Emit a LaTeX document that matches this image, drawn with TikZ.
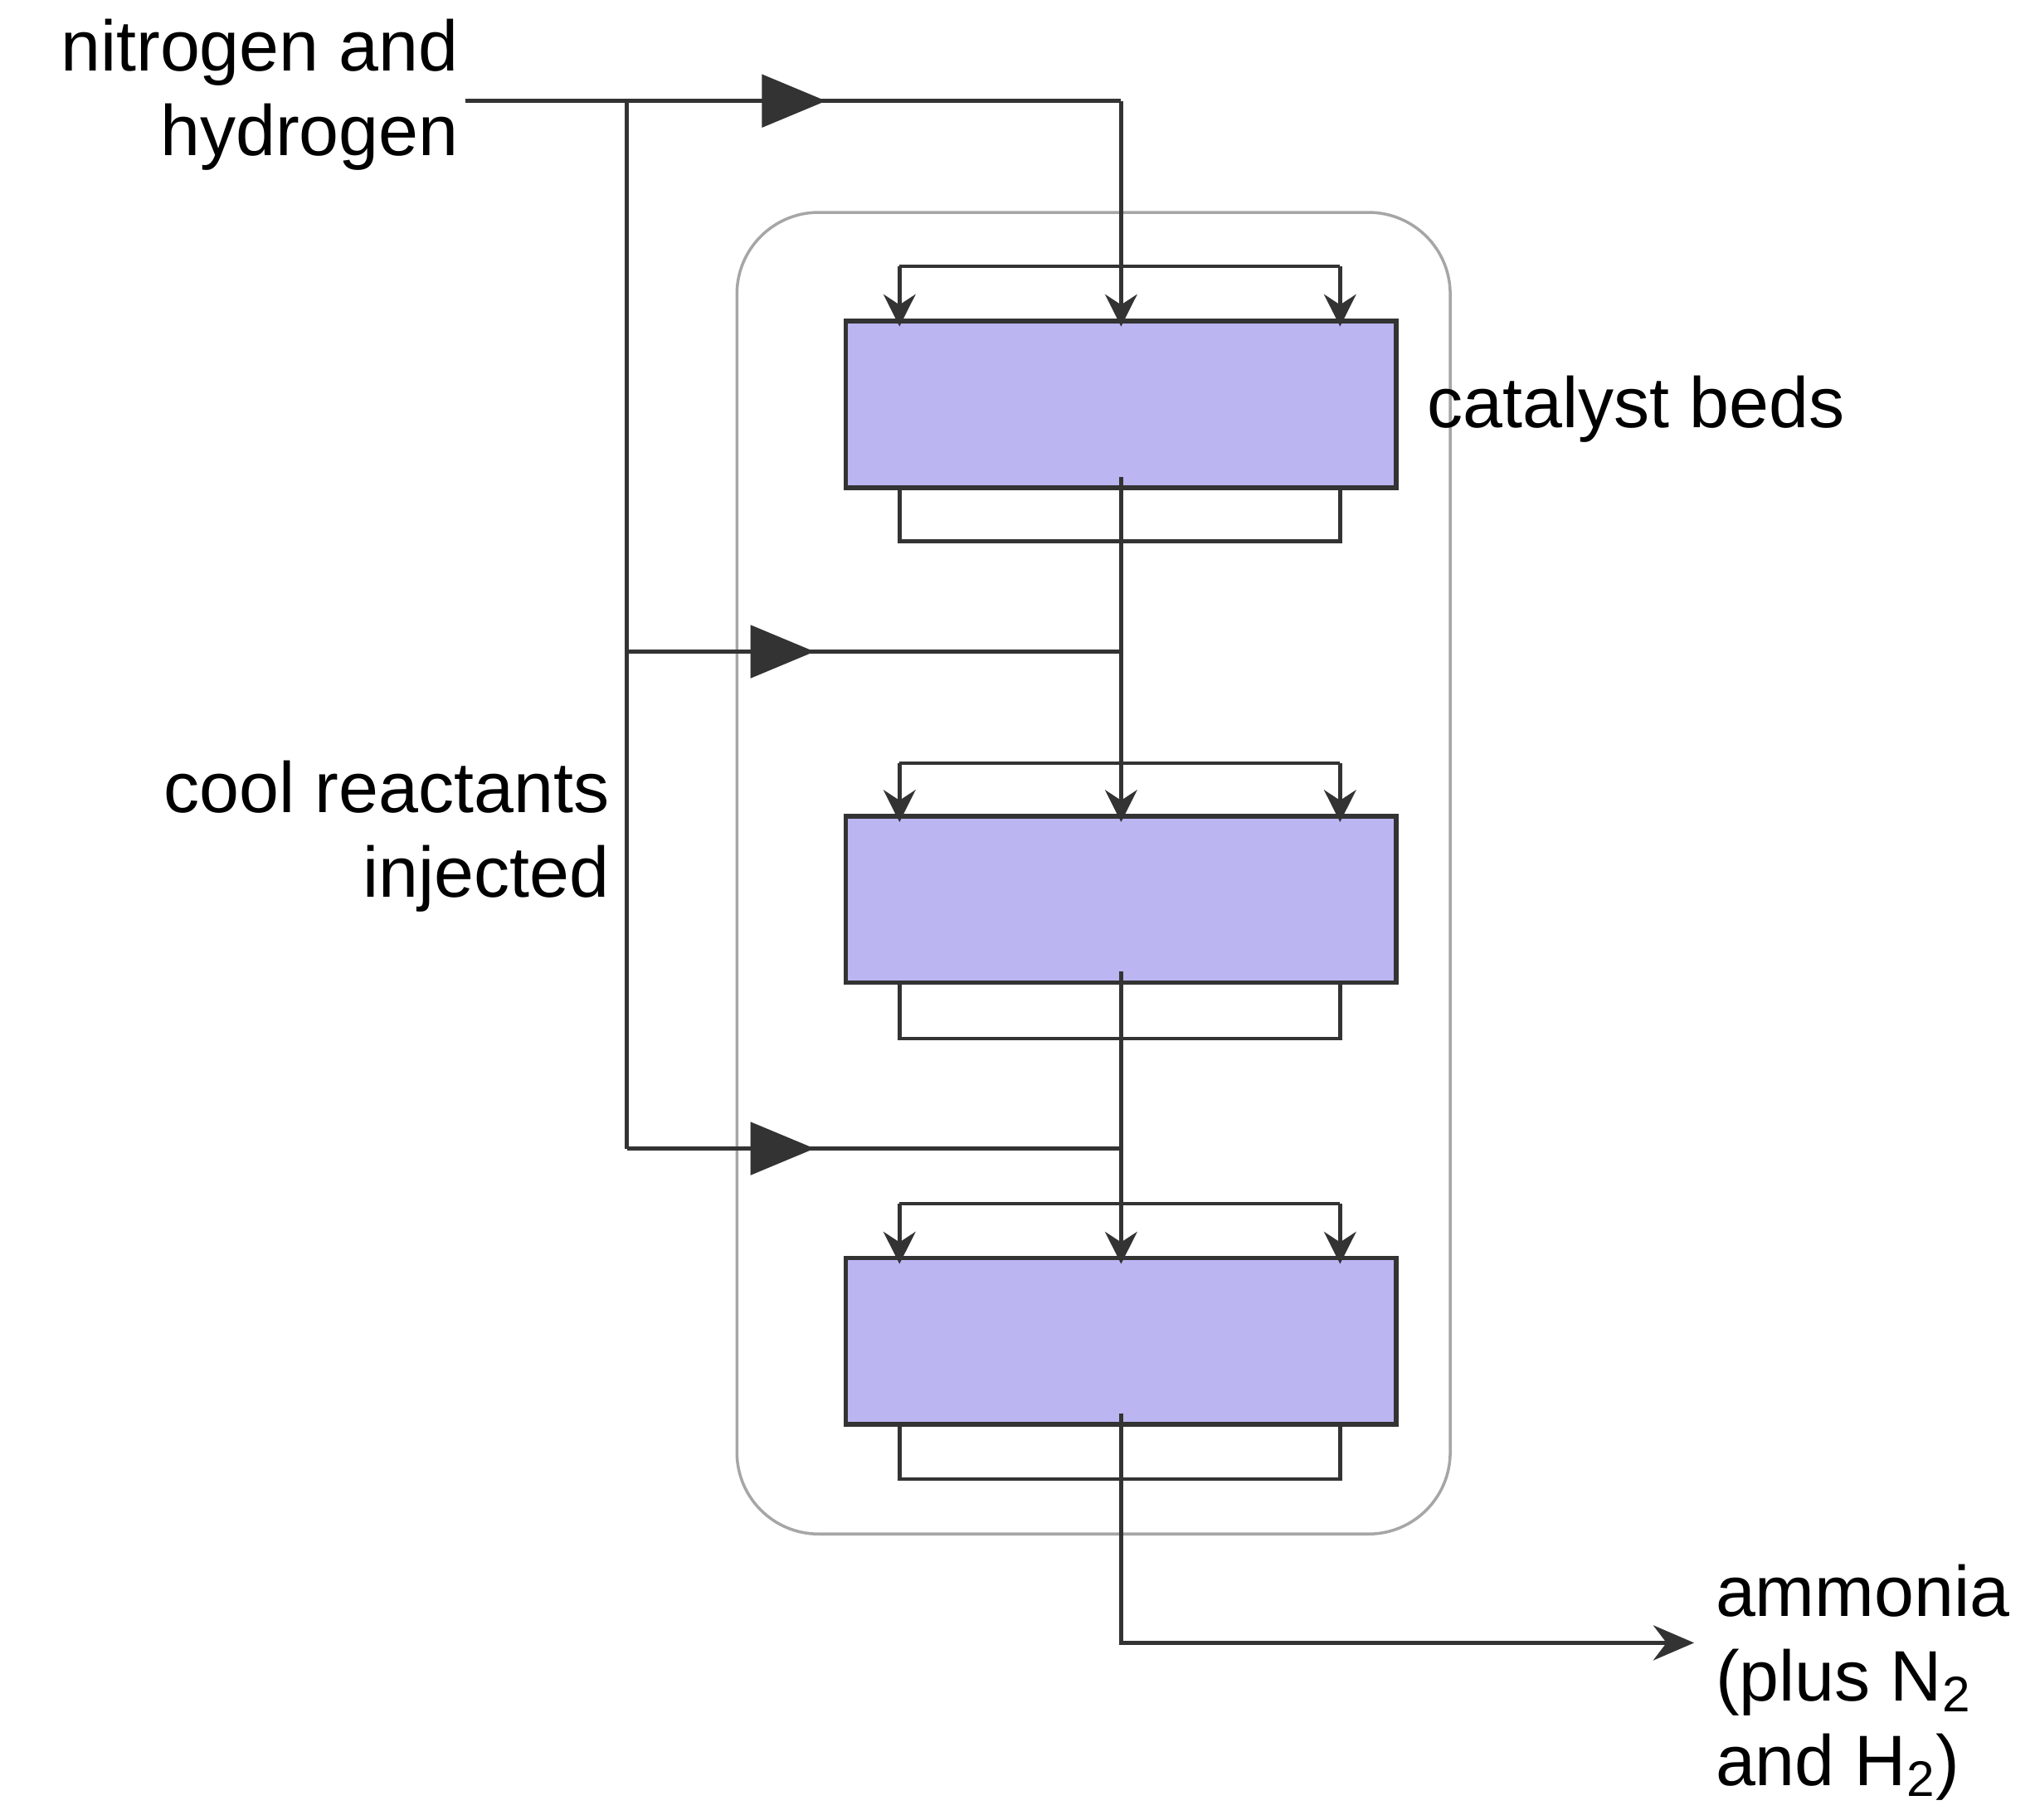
\documentclass[tikz,border=0pt]{standalone}
\usepackage{fontspec}
\setmainfont{Liberation Sans}
\usetikzlibrary{decorations.markings,arrows.meta}
\definecolor{bedc}{HTML}{BBB5F2}
\definecolor{linec}{HTML}{333333}
\begin{document}
\begin{tikzpicture}[x=0.0158cm,y=-0.0158cm,
  pipe/.style={draw=linec,line width=1.3pt},
  big/.style={pipe,postaction={decorate},decoration={markings,mark=at position #1 with {\arrow{Triangle[length=22pt,width=18pt]}}}},
  small/.style={pipe,-{Stealth[length=11pt,width=11pt]}},
  bed/.style={draw=linec,line width=1.6pt,fill=bedc},
  lbl/.style={font=\fontsize{24.5}{29}\selectfont,inner sep=0pt}]
\useasboundingbox (0,0) rectangle (1552,1388);
\draw[gray!70,line width=1pt,rounded corners=28] (562,162) rectangle (1106,1170);
\node[lbl,anchor=east,align=right] (feed) at (350,72) {nitrogen and\\hydrogen};
\node[lbl,anchor=west] (cat) at (1088,312) {catalyst beds};
\node[lbl,anchor=east,align=right] (cool) at (465,638) {cool reactants\\injected};
\node[lbl,anchor=west,align=left] (amm) at (1308,1283) {ammonia\\(plus N\textsubscript{2}\\and H\textsubscript{2})};
\foreach \i/\t/\b/\d/\c in {1/245/372/203/413, 2/623/749/582/792, 3/960/1086/918/1128}{
  \node[bed,minimum width=420*0.0158cm,minimum height=127*0.0158cm,inner sep=0pt] (bed\i) at (855,{(\t+\b)/2}) {};
  \coordinate (d\i) at (855,\d);
  \draw[pipe] (686,\d) -- (1022,\d);
  \draw[small] (686,\d) -- (686,\t+4);
  \draw[small] (1022,\d) -- (1022,\t+4);
  \draw[small] (855,\d) -- (855,\t+4);
  \draw[pipe] (686,\b) -- (686,\c) -- (1022,\c) -- (1022,\b);
  \draw[pipe] (855,\b-8) -- (855,\c);
  \coordinate (c\i) at (855,\c);
}
\coordinate (f0) at (355,77);
\coordinate (j0) at (478,77);
\coordinate (t0) at (855,77);
\draw[big=0.55] (f0) -- (t0);
\draw[pipe] (t0) -- (d1);
\draw[pipe] (j0) -- (478,876);
\draw[big=0.38] (478,497) -- (855,497);
\draw[big=0.38] (478,876) -- (855,876);
\draw[pipe] (c1) -- (d2);
\draw[pipe] (c2) -- (d3);
\coordinate (o) at (1292,1253);
\draw[pipe,-{Stealth[length=14pt,width=12pt]}] (c3) -- (855,1253) -- (o);
\end{tikzpicture}
\end{document}
